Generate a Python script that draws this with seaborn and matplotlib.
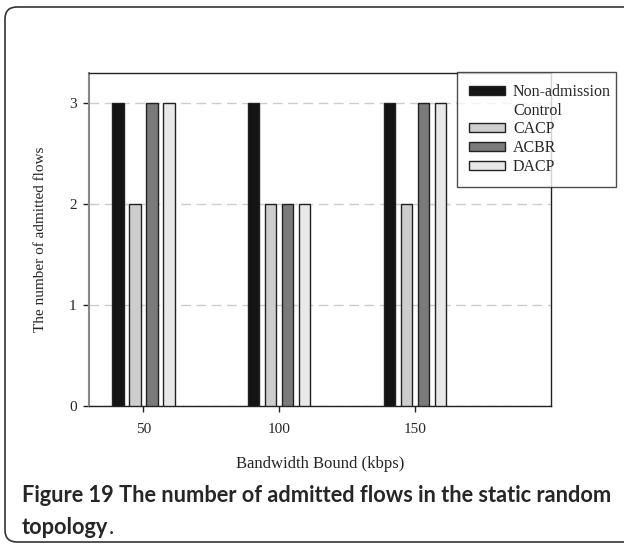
import pandas as pd
import matplotlib
matplotlib.use('Agg')
import matplotlib.pyplot as plt
import seaborn as sns
from matplotlib.patches import FancyBboxPatch, Rectangle
from matplotlib.transforms import IdentityTransform

# Values
bandwidth = [50, 100, 150]
schemes = ['Non-admission\nControl', 'CACP', 'ACBR', 'DACP']
non_admission = [3, 3, 3]
cacp = [2, 2, 2]
acbr = [3, 2, 3]
dacp = [3, 2, 3]
colors = ['#141414', '#cdcdcd', '#7a7a7a', '#e8e8e8']

rows = []
for name, vals in zip(schemes, [non_admission, cacp, acbr, dacp]):
    for bw, v in zip(bandwidth, vals):
        rows.append({'bandwidth': bw, 'scheme': name, 'flows': v})
df = pd.DataFrame(rows)

sns.set_style('white')
plt.rcParams['font.family'] = ['Liberation Serif', 'DejaVu Serif']

fig = plt.figure(figsize=(6.24, 5.44), dpi=100)
ax = fig.add_axes([89 / 624, 1 - 406 / 544, 462 / 624, 333 / 544])

sns.barplot(data=df, x='bandwidth', y='flows', hue='scheme',
            hue_order=schemes, palette=colors, native_scale=True,
            width=0.5, gap=0.33, edgecolor='#222222', linewidth=1,
            ax=ax, zorder=3)

ax.set_xlim(30, 200)
ax.set_ylim(0, 3.3)
ax.set_xticks(bandwidth)
ax.set_yticks([0, 1, 2, 3])
ax.tick_params(axis='both', direction='out', length=4, width=1,
               labelsize=11, color='#222222', bottom=True, left=True)
ax.tick_params(axis='x', pad=8.5)
ax.tick_params(axis='y', pad=5)
ax.yaxis.grid(True, linestyle=(0, (7, 4)), color='#cccccc', linewidth=1, zorder=0)
ax.xaxis.grid(False)
ax.set_axisbelow(True)
for side in ['top', 'right', 'bottom']:
    ax.spines[side].set_color('#222222')
    ax.spines[side].set_linewidth(1)
ax.spines['left'].set_color('#888888')
ax.spines['left'].set_linewidth(1.5)

ax.set_xlabel('Bandwidth Bound (kbps)', fontsize=12, labelpad=14.5)
ax.set_ylabel('The number of admitted flows', fontsize=11, labelpad=16)

# legend: split the two-line label so the swatch sits on the first line
old = ax.get_legend()
patches = list(old.legend_handles)
old.remove()
blank = Rectangle((0, 0), 1, 1, facecolor='none', edgecolor='none')
handles = [patches[0], blank, patches[1], patches[2], patches[3]]
labels = ['Non-admission', 'Control', 'CACP', 'ACBR', 'DACP']
leg = ax.legend(handles, labels, loc='upper left',
                bbox_to_anchor=(457 / 624, 1 - 186 / 544, 159 / 624, 114 / 544),
                bbox_transform=fig.transFigure, mode='expand',
                fontsize=11.5, frameon=True, fancybox=False, edgecolor='#222222',
                handlelength=2.25, handleheight=0.5, labelspacing=0.17,
                borderpad=0.75, handletextpad=0.5, borderaxespad=0)
leg.get_frame().set_linewidth(1)
leg.set_zorder(5)

# Caption below the chart
cap_font = ['Lato', 'DejaVu Sans']
fig.text(22 / 624, 1 - 496 / 544,
         'Figure 19 The number of admitted flows in the static random',
         fontsize=15.7, fontweight='bold', family=cap_font, va='center', ha='left')
t2 = fig.text(22 / 624, 1 - 527 / 544, 'topology', fontsize=15.7,
              fontweight='bold', family=cap_font, va='center', ha='left')
ax.annotate('.', xy=(1, 0), xycoords=t2, fontsize=15.7, family=cap_font,
            va='bottom', ha='left', annotation_clip=False)

# Rounded frame around the whole figure (right side runs past the image edge)
frame = FancyBboxPatch((5, 2), 640, 535, boxstyle='round,pad=0,rounding_size=12',
                       transform=IdentityTransform(), facecolor='none',
                       edgecolor='#333333', linewidth=1.2)
fig.add_artist(frame)

plt.savefig('out.png', dpi=100)
plt.close()
